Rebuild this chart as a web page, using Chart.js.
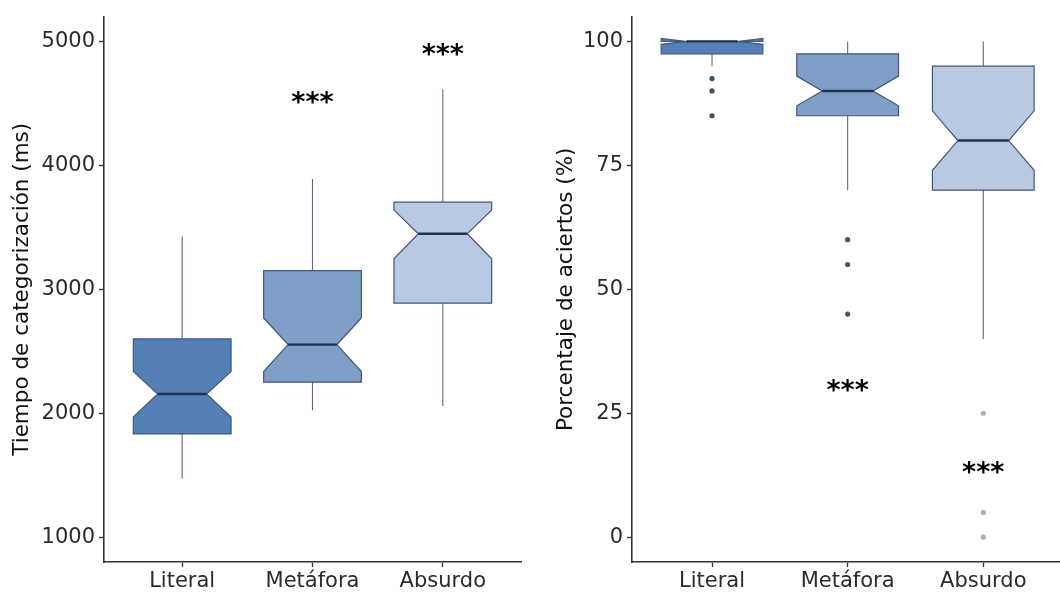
<!DOCTYPE html>
<html>
<head>
<meta charset="utf-8">
<script src="https://cdn.jsdelivr.net/npm/chart.js@4.4.1/dist/chart.umd.min.js"></script>
<style>
  html, body { margin:0; padding:0; background:#fff; overflow:hidden; width:1060px; height:596px; position:relative; }
  .panel { position:absolute; top:0; }
  canvas { display:block; }
</style>
</head>
<body>
<div class="panel" style="left:0px"><canvas id="c1" width="530" height="596"></canvas></div>
<div class="panel" style="left:530px"><canvas id="c2" width="535" height="596"></canvas></div>
<script>
// ---------- data ----------
const categories = ['Literal', 'Metáfora', 'Absurdo'];

// Left panel: Tiempo de categorización (ms)
const rtQ1          = [1833, 2251, 2889];
const rtMedian      = [2155, 2554, 3448];
const rtQ3          = [2600, 3150, 3703];
const rtWhiskerLow  = [1474, 2025, 2059];
const rtWhiskerHigh = [3426, 3889, 4613];
const rtNotchLow    = [1969, 2336, 3246];
const rtNotchHigh   = [2336, 2769, 3639];
const rtOutliers    = [[], [], []];
const rtStars       = [null, 4545, 4935];
const rtTicks       = [1000, 2000, 3000, 4000, 5000];

// Right panel: Porcentaje de aciertos (%)
const accQ1          = [97.5, 85, 70];
const accMedian      = [100, 90, 80];
const accQ3          = [100, 97.5, 95];
const accWhiskerLow  = [95, 70, 40];
const accWhiskerHigh = [100, 100, 100];
const accNotchLow    = [99.4, 87, 74];
const accNotchHigh   = [100.6, 93, 86];
const accOutliers    = [[92.5, 90, 85], [60, 55, 45], [25, 5, 0]];
const accStars       = [null, 30.5, 14];
const accTicks       = [0, 25, 50, 75, 100];

// ---------- styles ----------
const boxFills     = ['#5580b6', '#7f9fc7', '#b8c9e1'];
const outlierCols  = ['#3e4e6a', '#46566f', '#a9b0bd'];
const boxLine      = '#44557a';
const medianLine   = '#1f3253';
const whiskerLine  = '#5d6a82';
const axisColor    = '#333333';
const FONT = "'DejaVu Sans', sans-serif";

const notchedBoxes = {
  id: 'notchedBoxes',
  beforeDatasetsDraw(chart, args, opts) {
    const ctx = chart.ctx, xs = chart.scales.x, ys = chart.scales.y;
    const w = 0.75, nw = w * 0.25;
    ctx.save();
    ctx.beginPath();
    ctx.rect(chart.chartArea.left, chart.chartArea.top, chart.chartArea.right - chart.chartArea.left, chart.chartArea.bottom - chart.chartArea.top);
    ctx.clip();
    for (let i = 0; i < opts.q1.length; i++) {
      const c = i + 1;
      const X = v => xs.getPixelForValue(v), Y = v => ys.getPixelForValue(v);
      // whiskers
      ctx.strokeStyle = whiskerLine; ctx.lineWidth = 1.1;
      ctx.beginPath();
      ctx.moveTo(X(c), Y(opts.q3[i])); ctx.lineTo(X(c), Y(opts.whHigh[i]));
      ctx.moveTo(X(c), Y(opts.q1[i])); ctx.lineTo(X(c), Y(opts.whLow[i]));
      ctx.stroke();
      // notched box
      const xmin = c - w / 2, xmax = c + w / 2;
      const pts = [
        [xmin, opts.q3[i]], [xmin, opts.nHigh[i]], [xmin + nw, opts.med[i]], [xmin, opts.nLow[i]],
        [xmin, opts.q1[i]], [xmax, opts.q1[i]], [xmax, opts.nLow[i]], [xmax - nw, opts.med[i]],
        [xmax, opts.nHigh[i]], [xmax, opts.q3[i]]
      ];
      ctx.beginPath();
      pts.forEach((p, k) => k ? ctx.lineTo(X(p[0]), Y(p[1])) : ctx.moveTo(X(p[0]), Y(p[1])));
      ctx.closePath();
      ctx.fillStyle = boxFills[i];
      ctx.fill('nonzero');
      ctx.strokeStyle = boxLine; ctx.lineWidth = 1.2; ctx.lineJoin = 'miter';
      ctx.stroke();
      // median
      ctx.strokeStyle = medianLine; ctx.lineWidth = 2.4;
      ctx.beginPath();
      ctx.moveTo(X(xmin + nw), Y(opts.med[i])); ctx.lineTo(X(xmax - nw), Y(opts.med[i]));
      ctx.stroke();
    }
    ctx.restore();
  },
  afterDatasetsDraw(chart, args, opts) {
    const ctx = chart.ctx, xs = chart.scales.x, ys = chart.scales.y;
    ctx.save();
    ctx.fillStyle = '#000';
    ctx.font = "bold 27px " + FONT;
    ctx.textAlign = 'center';
    ctx.textBaseline = 'alphabetic';
    const m = ctx.measureText('***');
    const asc = m.actualBoundingBoxAscent, desc = m.actualBoundingBoxDescent;
    opts.stars.forEach((v, i) => {
      if (v === null) return;
      const yc = ys.getPixelForValue(v);
      ctx.fillText('***', xs.getPixelForValue(i + 1), yc + (asc - desc) / 2);
    });
    ctx.restore();
  }
};

function makeChart(id, cfg) {
  const pts = [], cols = [];
  cfg.outliers.forEach((arr, i) => arr.forEach(v => { pts.push({x: i + 1, y: v}); cols.push(outlierCols[i]); }));
  return new Chart(document.getElementById(id), {
    type: 'scatter',
    data: { datasets: [{ data: pts, pointBackgroundColor: cols, pointBorderWidth: 0, pointRadius: 2.6 }] },
    plugins: [notchedBoxes],
    options: {
      responsive: false, animation: false, devicePixelRatio: 1,
      layout: { padding: { top: 10, right: cfg.padRight, left: 0, bottom: 0 } },
      plugins: {
        legend: { display: false }, tooltip: { enabled: false },
        notchedBoxes: {
          q1: cfg.q1, med: cfg.med, q3: cfg.q3, whLow: cfg.whLow, whHigh: cfg.whHigh,
          nLow: cfg.nLow, nHigh: cfg.nHigh, stars: cfg.stars
        }
      },
      scales: {
        x: {
          type: 'linear', min: cfg.xMin, max: cfg.xMax,
          afterBuildTicks: s => { s.ticks = categories.map((c, i) => ({ value: i + 1 })); },
          afterFit: s => { s.height = 34; s.paddingLeft = 0; s.paddingRight = 0; },
          ticks: { callback: v => categories[v - 1], font: { family: FONT, size: 21 }, color: '#2b2b2b', padding: 2, maxRotation: 0, autoSkip: false },
          grid: { drawOnChartArea: false, drawTicks: true, tickLength: 5, tickWidth: 1.3, tickColor: axisColor, color: axisColor },
          border: { display: true, color: axisColor, width: 1.6 }
        },
        y: {
          min: cfg.yMin, max: cfg.yMax,
          afterBuildTicks: s => { s.ticks = cfg.ticks.map(v => ({ value: v })); },
          afterFit: s => { s.width = cfg.yWidth; },
          ticks: { callback: v => String(v), font: { family: FONT, size: 21 }, color: '#2b2b2b', padding: 4 },
          grid: { drawOnChartArea: false, drawTicks: true, tickLength: 5, tickWidth: 1.3, tickColor: axisColor, color: axisColor },
          border: { display: true, color: axisColor, width: 1.6 },
          title: { display: true, text: cfg.title, font: { family: FONT, size: 21.5 }, color: '#111', padding: { top: cfg.titlePad, bottom: 0 } }
        }
      }
    }
  });
}

makeChart('c1', {
  q1: rtQ1, med: rtMedian, q3: rtQ3, whLow: rtWhiskerLow, whHigh: rtWhiskerHigh,
  nLow: rtNotchLow, nHigh: rtNotchHigh, outliers: rtOutliers, stars: rtStars, ticks: rtTicks,
  yMin: 800, yMax: 5200, xMin: 0.4, xMax: 3.6, yWidth: 104, padRight: 9, titlePad: 10,
  title: 'Tiempo de categorización (ms)'
});
makeChart('c2', {
  q1: accQ1, med: accMedian, q3: accQ3, whLow: accWhiskerLow, whHigh: accWhiskerHigh,
  nLow: accNotchLow, nHigh: accNotchHigh, outliers: accOutliers, stars: accStars, ticks: accTicks,
  yMin: -5, yMax: 105, xMin: 0.41, xMax: 3.573, yWidth: 102, padRight: 0, titlePad: 24,
  title: 'Porcentaje de aciertos (%)'
});
</script>
</body>
</html>
